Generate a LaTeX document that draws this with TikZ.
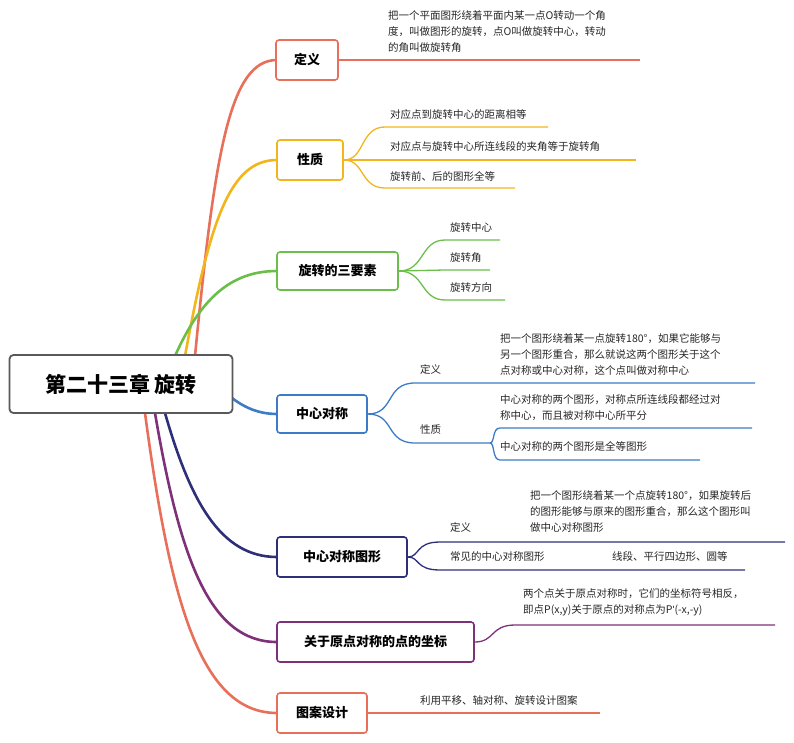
\documentclass[tikz,border=0pt]{standalone}
\usepackage{fontspec}
\setmainfont{Noto Sans CJK SC}
\begin{document}
\begin{tikzpicture}[x=1pt,y=-1pt,
 cbox/.style={draw=#1,line width=1.6pt,rounded corners=3pt,fill=white,font=\fontsize{13}{15}\selectfont\bfseries,inner sep=0pt,minimum height=40pt},
 br/.style={draw=#1,line width=2.6pt},
 sub/.style={draw=#1,line width=1.3pt},
 txt/.style={font=\fontsize{10.5}{16}\selectfont,anchor=north west,inner sep=0pt,align=left,text=black!85}]
\definecolor{cA}{HTML}{E8705A}\definecolor{cB}{HTML}{F2B51C}\definecolor{cC}{HTML}{6CBE4A}
\definecolor{cD}{HTML}{3C7CC6}\definecolor{cE}{HTML}{2D2F78}\definecolor{cF}{HTML}{7E3179}
\useasboundingbox (0,0) rectangle (794,743);
% branches
\coordinate (r1) at (195,356); \coordinate (r2) at (185,356);\coordinate (r3) at (175,356);
\coordinate (r4) at (190,356);\coordinate (r5) at (165,413);\coordinate (r6) at (155,413);\coordinate (r7) at (145,413);
\draw[br=cA] (r1) .. controls (215,150) and (230,60) .. (277,60);
\draw[br=cB] (r2) .. controls (210,220) and (230,160) .. (277,160);
\draw[br=cC] (r3) .. controls (200,300) and (230,271) .. (277,271);
\draw[br=cD] (r4) .. controls (215,380) and (235,414) .. (277,414);
\draw[br=cE] (r5) .. controls (190,500) and (220,557) .. (277,557);
\draw[br=cF] (r6) .. controls (180,560) and (210,642) .. (277,642);
\draw[br=cA] (r7) .. controls (170,600) and (200,713) .. (277,713);
\node[draw=gray!70!black,line width=1.8pt,rounded corners=4pt,fill=white,minimum width=223pt,minimum height=58pt,font=\fontsize{21}{24}\selectfont\bfseries] (root) at (121,384) {第二十三章 旋转};
% 1
\node[cbox=cA,minimum width=62pt] (b1) at (307,60) {定义};
\draw[sub=cA] (b1.east) -- (640,60);
\node[txt] (t1) at (388,10) {把一个平面图形绕着平面内某一点O转动一个角\\度，叫做图形的旋转，点O叫做旋转中心，转动\\的角叫做旋转角};
% 2
\node[cbox=cB,minimum width=66pt] (b2) at (310,160) {性质};
\draw[sub=cB] (b2.east) .. controls (365,160) and (360,127) .. (385,127) -- (548,127);
\draw[sub=cB] (b2.east) -- (636,160);
\draw[sub=cB] (b2.east) .. controls (365,160) and (360,188) .. (385,188) -- (515,188);
\node[txt] (t21) at (390,109) {对应点到旋转中心的距离相等};
\node[txt] (t22) at (390,141) {对应点与旋转中心所连线段的夹角等于旋转角};
\node[txt] (t23) at (390,171) {旋转前、后的图形全等};
% 3
\node[cbox=cC,minimum width=121pt,minimum height=38pt] (b3) at (337.5,271) {旋转的三要素};
\draw[sub=cC] (b3.east) .. controls (425,271) and (420,240) .. (445,240) -- (500,240);
\draw[sub=cC] (b3.east) -- (445,270) -- (490,270);
\draw[sub=cC] (b3.east) .. controls (425,271) and (420,300) .. (445,300) -- (505,300);
\node[txt] (t31) at (450,222) {旋转中心};
\node[txt] (t32) at (450,252) {旋转角};
\node[txt] (t33) at (450,282) {旋转方向};
% 4
\node[cbox=cD,minimum width=90pt,minimum height=38pt] (b4) at (322,414) {中心对称};
\draw[sub=cD] (b4.east) .. controls (395,414) and (385,383) .. (415,383) -- (755,383);
\draw[sub=cD] (b4.east) .. controls (395,414) and (385,443) .. (415,443) -- (490,443);
\draw[sub=cD] (490,443) .. controls (495,443) and (492,428) .. (500,428) -- (752,428);
\draw[sub=cD] (490,443) .. controls (495,443) and (492,460) .. (500,460) -- (700,460);
\node[txt] (t4a) at (420,364) {定义};
\node[txt] (t4b) at (420,424) {性质};
\node[txt] (t41) at (500,333) {把一个图形绕着某一点旋转180°，如果它能够与\\另一个图形重合，那么就说这两个图形关于这个\\点对称或中心对称，这个点叫做对称中心};
\node[txt] (t42) at (500,394) {中心对称的两个图形，对称点所连线段都经过对\\称中心，而且被对称中心所平分};
\node[txt] (t43) at (500,441) {中心对称的两个图形是全等图形};
% 5
\node[cbox=cE,minimum width=130pt] (b5) at (342,557) {中心对称图形};
\draw[sub=cE] (b5.east) .. controls (420,557) and (415,542) .. (440,542) -- (785,542);
\draw[sub=cE] (b5.east) .. controls (420,557) and (415,570) .. (440,570) -- (745,570);
\node[txt] (t5a) at (450,522) {定义};
\node[txt] (t51) at (530,490) {把一个图形绕着某一个点旋转180°，如果旋转后\\的图形能够与原来的图形重合，那么这个图形叫\\做中心对称图形};
\node[txt] (t52) at (450,551) {常见的中心对称图形};
\node[txt] (t53) at (612,551) {线段、平行四边形、圆等};
% 6
\node[cbox=cF,minimum width=197pt] (b6) at (375.5,642) {关于原点对称的点的坐标};
\draw[sub=cF] (b6.east) .. controls (495,642) and (490,625) .. (515,625) -- (775,625);
\node[txt] (t6) at (523,588) {两个点关于原点对称时，它们的坐标符号相反，\\即点P(x,y)关于原点的对称点为P{\fontspec{Liberation Sans}\char"27}(-x,-y)};
% 7
\node[cbox=cA,minimum width=90pt] (b7) at (322,713) {图案设计};
\draw[sub=cA] (b7.east) -- (600,713);
\node[txt] (t7) at (420,695) {利用平移、轴对称、旋转设计图案};
\end{tikzpicture}
\end{document}
